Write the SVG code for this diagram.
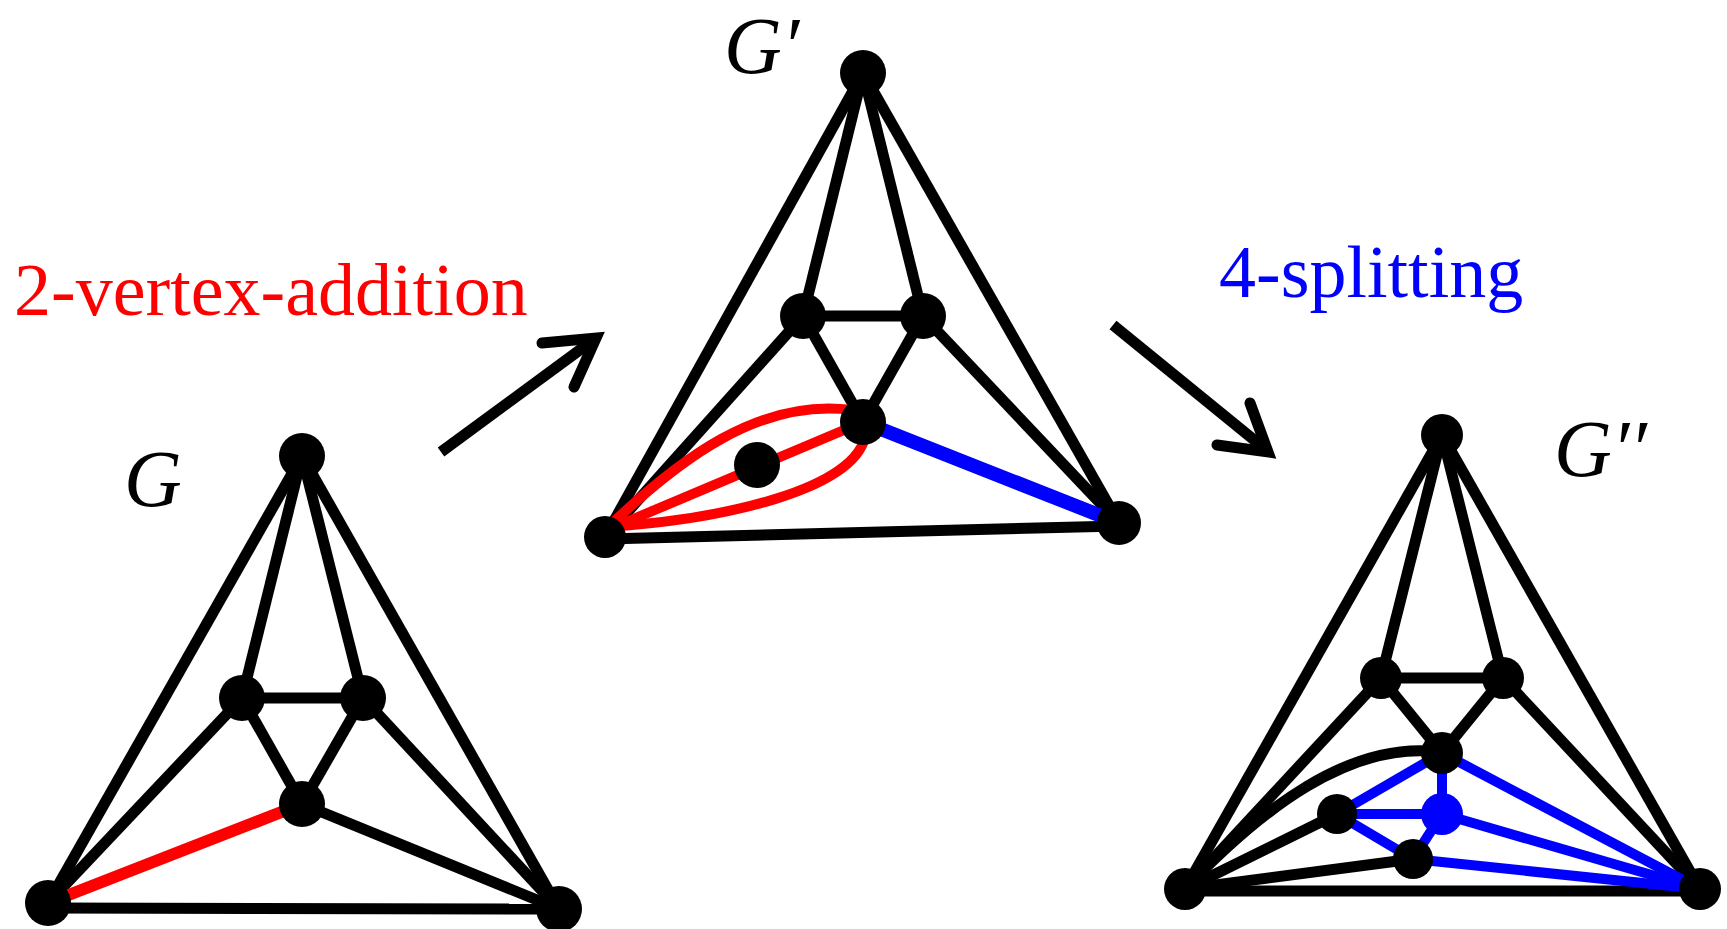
<svg xmlns="http://www.w3.org/2000/svg" width="1727" height="929" viewBox="0 0 1727 929">
<style>
.e{stroke:#000;stroke-width:11;fill:none}
.r{stroke:#f00;stroke-width:12;fill:none}
.rl{stroke:#f00;stroke-width:10;fill:none}
.b{stroke:#00f;stroke-width:14;fill:none}
.b2{stroke:#00f;stroke-width:10;fill:none}
.n{fill:#000}
.nb{fill:#00f}
.lbl{font-family:"Liberation Serif",serif;font-style:italic;font-size:80px;fill:#000}
.op{font-family:"Liberation Serif",serif;font-size:74px}
.arr{stroke:#000;stroke-width:11;fill:none;stroke-linecap:round;stroke-linejoin:miter}
</style>
<rect width="1727" height="929" fill="#fff"/>
<g id="connectors">
  <!-- G -->
  <line class="e" x1="302" y1="456" x2="48" y2="903"/>
  <line class="e" x1="302" y1="456" x2="559" y2="909"/>
  <line class="e" x1="302" y1="456" x2="242" y2="698"/>
  <line class="e" x1="302" y1="456" x2="363" y2="698"/>
  <line class="e" x1="242" y1="698" x2="363" y2="698"/>
  <line class="e" x1="242" y1="698" x2="48" y2="903"/>
  <line class="e" x1="363" y1="698" x2="559" y2="909"/>
  <line class="e" x1="242" y1="698" x2="302" y2="804"/>
  <line class="e" x1="363" y1="698" x2="302" y2="804"/>
  <line class="e" x1="302" y1="804" x2="559" y2="909"/>
  <line class="e" x1="48" y1="908" x2="559" y2="909"/>
  <line class="r" x1="48" y1="903" x2="302" y2="804"/>
  <!-- G' -->
  <line class="e" x1="863" y1="73" x2="605" y2="537"/>
  <line class="e" x1="863" y1="73" x2="1119" y2="523"/>
  <line class="e" x1="863" y1="73" x2="803" y2="316"/>
  <line class="e" x1="863" y1="73" x2="923" y2="316"/>
  <line class="e" x1="803" y1="316" x2="923" y2="316"/>
  <line class="e" x1="803" y1="316" x2="605" y2="537"/>
  <line class="e" x1="923" y1="316" x2="1119" y2="523"/>
  <line class="e" x1="803" y1="316" x2="863" y2="422"/>
  <line class="e" x1="923" y1="316" x2="863" y2="422"/>
  <line class="e" x1="605" y1="539" x2="1119" y2="526"/>
  <line class="b" x1="863" y1="422" x2="1119" y2="523"/>
  <line class="rl" x1="605" y1="531" x2="863" y2="422"/>
  <path class="rl" d="M605 530 C680 458 760 398 852 410"/>
  <path class="rl" d="M866 432 C860 490 720 520 605 527"/>
  <!-- G'' -->
  <line class="e" x1="1442" y1="435" x2="1185" y2="889"/>
  <line class="e" x1="1442" y1="435" x2="1700" y2="889"/>
  <line class="e" x1="1442" y1="435" x2="1381" y2="678"/>
  <line class="e" x1="1442" y1="435" x2="1503" y2="678"/>
  <line class="e" x1="1381" y1="678" x2="1503" y2="678"/>
  <line class="e" x1="1381" y1="678" x2="1185" y2="889"/>
  <line class="e" x1="1503" y1="678" x2="1700" y2="889"/>
  <line class="e" x1="1381" y1="678" x2="1442" y2="753"/>
  <line class="e" x1="1503" y1="678" x2="1442" y2="753"/>
  <path class="e" d="M1185 889 C1260 810 1350 740 1440 752"/>
  <line class="e" x1="1185" y1="889" x2="1337" y2="814"/>
  <line class="e" x1="1185" y1="889" x2="1413" y2="859"/>
  <line class="e" x1="1185" y1="891" x2="1700" y2="891"/>
  <line class="b2" x1="1442" y1="753" x2="1337" y2="814"/>
  <line class="b2" x1="1442" y1="753" x2="1442" y2="814"/>
  <line class="b2" x1="1442" y1="753" x2="1700" y2="889"/>
  <line class="b2" x1="1337" y1="814" x2="1442" y2="814"/>
  <line class="b2" x1="1337" y1="814" x2="1413" y2="859"/>
  <line class="b2" x1="1442" y1="814" x2="1413" y2="859"/>
  <line class="b2" x1="1442" y1="814" x2="1700" y2="889"/>
  <line class="b2" x1="1413" y1="859" x2="1700" y2="889"/>
  <!-- arrows -->
  <line class="arr" style="stroke-linecap:butt" x1="441" y1="452" x2="592" y2="341"/>
  <path class="arr" d="M542 343 L596 338 L574 387"/>
  <line class="arr" style="stroke-linecap:butt" x1="1113" y1="325" x2="1264" y2="448"/>
  <path class="arr" d="M1250 403 L1268 452 L1217 445"/>
</g>
<g id="node-G">
  <circle class="n" cx="302" cy="456" r="23"/>
  <circle class="n" cx="242" cy="698" r="23"/>
  <circle class="n" cx="363" cy="698" r="23"/>
  <circle class="n" cx="302" cy="804" r="23"/>
  <circle class="n" cx="48" cy="903" r="23"/>
  <circle class="n" cx="559" cy="909" r="23"/>
  <text class="lbl" x="124" y="506">G</text>
</g>
<g id="node-G1">
  <circle class="n" cx="863" cy="73" r="23"/>
  <circle class="n" cx="803" cy="316" r="23"/>
  <circle class="n" cx="923" cy="316" r="23"/>
  <circle class="n" cx="863" cy="422" r="23"/>
  <circle class="n" cx="757" cy="465" r="23"/>
  <circle class="n" cx="605" cy="537" r="21"/>
  <circle class="n" cx="1119" cy="523" r="22"/>
  <text class="lbl" x="724" y="73">G′</text>
</g>
<g id="node-G2">
  <circle class="n" cx="1442" cy="435" r="21"/>
  <circle class="n" cx="1381" cy="678" r="21"/>
  <circle class="n" cx="1503" cy="678" r="21"/>
  <circle class="n" cx="1442" cy="753" r="21"/>
  <circle class="nb" cx="1442" cy="814" r="21"/>
  <circle class="n" cx="1337" cy="814" r="20"/>
  <circle class="n" cx="1413" cy="859" r="20"/>
  <circle class="n" cx="1185" cy="889" r="21"/>
  <circle class="n" cx="1700" cy="889" r="21"/>
  <text class="lbl" x="1554" y="476">G′′</text>
</g>
<g id="op-labels">
  <text class="op" x="14" y="315" fill="#f00">2-vertex-addition</text>
  <text class="op" x="1219" y="297" fill="#00f">4-splitting</text>
</g>
</svg>
